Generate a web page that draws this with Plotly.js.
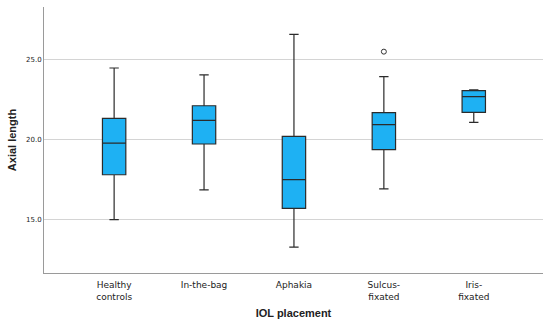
<!DOCTYPE html>
<html><head><meta charset="utf-8">
<script src="https://cdn.plot.ly/plotly-3.0.1.min.js"></script>
<style>body{margin:0;padding:0;background:#fff}#chart{width:550px;height:324px}</style>
</head><body><div id="chart"></div>
<script>
const categories = ["Healthy<br>controls", "In-the-bag", "Aphakia", "Sulcus-<br>fixated", "Iris-<br>fixated"];
const lowerWhisker = [14.98, 16.84, 13.27, 16.90, 21.06];
const q1Values     = [17.79, 19.71, 15.69, 19.36, 21.69];
const medianValues = [19.77, 21.19, 17.48, 20.92, 22.67];
const q3Values     = [21.31, 22.10, 20.19, 21.67, 23.04];
const upperWhisker = [24.46, 24.03, 26.56, 23.92, 23.10];
const outlierCategories = ["Sulcus-<br>fixated"];
const outlierValues = [25.48];
const yTicks = [15, 20, 25];

const data = [
  {
    type: 'box',
    x: categories,
    q1: q1Values, median: medianValues, q3: q3Values,
    lowerfence: lowerWhisker, upperfence: upperWhisker,
    fillcolor: '#1eb1f3',
    line: {color: '#2b2b2b', width: 1.2},
    width: 0.26,
    whiskerwidth: 0.4,
    boxpoints: false,
    hoverinfo: 'skip',
    showlegend: false
  },
  {
    type: 'scatter', mode: 'markers',
    x: outlierCategories, y: outlierValues,
    marker: {symbol: 'circle-open', size: 5, color: '#333', line: {width: 1, color: '#333'}},
    showlegend: false, hoverinfo: 'skip'
  }
];

const layout = {
  width: 550, height: 324,
  margin: {l: 44, r: 7, t: 7, b: 51},
  paper_bgcolor: '#fff', plot_bgcolor: '#fff',
  font: {family: 'Liberation Sans, Arial, sans-serif', color: '#222'},
  xaxis: {
    type: 'category',
    categoryarray: categories, categoryorder: 'array',
    range: [-0.78, 4.77],
    showline: true, linecolor: '#9a9a9a', linewidth: 1,
    showgrid: false, ticks: 'outside', ticklen: 3, tickcolor: 'rgba(0,0,0,0)', zeroline: false,
    tickfont: {family: 'DejaVu Sans, sans-serif', size: 9, color: '#222'},
    title: {text: '<b>IOL placement</b>', font: {size: 11, color: '#222'}, standoff: 8}
  },
  yaxis: {
    range: [11.65, 28.27],
    tickvals: yTicks, tickformat: '.1f',
    showline: true, linecolor: '#9a9a9a', linewidth: 1,
    showgrid: true, gridcolor: '#d4d4d4', gridwidth: 1.2,
    ticks: '', zeroline: false,
    tickfont: {family: 'DejaVu Sans, sans-serif', size: 7, color: '#222'},
    title: {text: '<b>Axial length</b>', font: {size: 11, color: '#222'}, standoff: 7}
  }
};

Plotly.newPlot('chart', data, layout, {displayModeBar: false, staticPlot: true});
</script></body></html>
